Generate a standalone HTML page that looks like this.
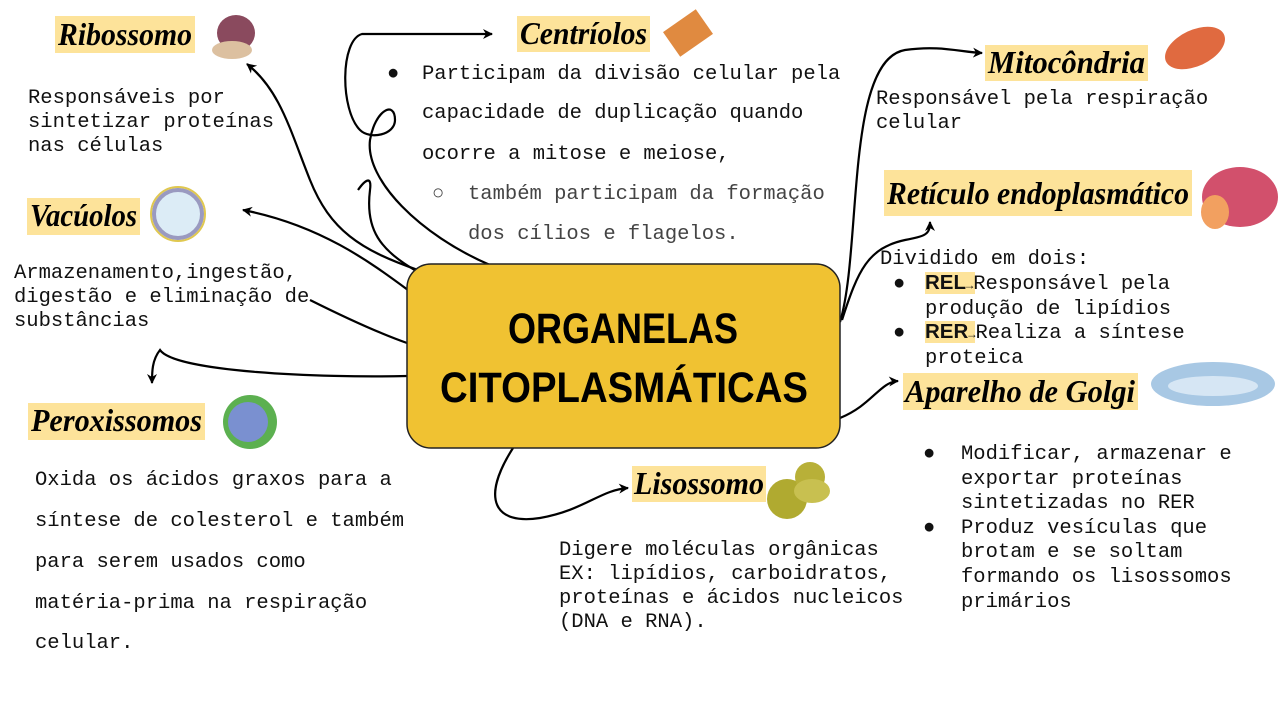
<!DOCTYPE html>
<html><head><meta charset="utf-8"><style>
html,body{margin:0;padding:0;background:#fff;width:1280px;height:704px;overflow:hidden}
svg{display:block}
.m{font-family:"Liberation Mono",monospace;font-size:20.5px;fill:#111}
.t{font-family:"Liberation Serif",serif;font-style:italic;font-weight:bold;font-size:32px;fill:#000}
.hl{fill:#fde39a}
.c{fill:none;stroke:#000;stroke-width:2.2}
</style></head><body>
<svg width="1280" height="704" viewBox="0 0 1280 704" xmlns="http://www.w3.org/2000/svg">
<defs><marker id="a" markerWidth="12" markerHeight="12" refX="9" refY="5" orient="auto" markerUnits="userSpaceOnUse"><path d="M0,0 L10,5 L0,10 L3,5 Z" fill="#000"/></marker></defs>

<path class="c" marker-end="url(#a)" d="M418,270 C360,250 330,230 310,180 C290,130 280,90 247,64"/>
<path class="c" marker-end="url(#a)" d="M490,265 C420,235 365,180 370,140 C375,110 395,100 395,120 C395,135 370,140 360,130 C340,110 340,40 362,34 L492,34"/>
<path class="c" d="M418,272 C380,250 365,230 370,190 C372,175 365,180 358,190"/>
<path class="c" marker-end="url(#a)" d="M408,290 C370,262 320,225 243,210"/>
<path class="c" d="M407,343 C370,330 330,310 310,300"/>
<path class="c" marker-end="url(#a)" d="M407,376 C320,378 175,372 160,350 C152,360 152,372 152,383"/>
<path class="c" marker-end="url(#a)" d="M513,448 C480,500 495,525 540,518 C585,510 600,490 628,488"/>
<path class="c" marker-end="url(#a)" d="M840,322 C862,250 845,60 905,50 C940,45 960,52 982,53"/>
<path class="c" marker-end="url(#a)" d="M842,320 C858,270 868,248 905,240 C925,236 930,235 930,222"/>
<path class="c" marker-end="url(#a)" d="M840,418 C872,405 880,382 898,381"/>

<rect x="407" y="264" width="433" height="184" rx="24" fill="#f0c232" stroke="#222" stroke-width="1.5"/>
<text x="623" y="343" text-anchor="middle" font-family="Liberation Sans,sans-serif" font-weight="bold" font-size="43" textLength="230" lengthAdjust="spacingAndGlyphs">ORGANELAS</text>
<text x="624" y="402" text-anchor="middle" font-family="Liberation Sans,sans-serif" font-weight="bold" font-size="43" textLength="368" lengthAdjust="spacingAndGlyphs">CITOPLASMÁTICAS</text>

<rect class="hl" x="55" y="16" width="140" height="37"/><text class="t" x="58" y="45" textLength="134" lengthAdjust="spacingAndGlyphs">Ribossomo</text>
<rect class="hl" x="517" y="16" width="133" height="36"/><text class="t" x="520" y="44" textLength="127" lengthAdjust="spacingAndGlyphs">Centríolos</text>
<rect class="hl" x="985" y="45" width="163" height="36"/><text class="t" x="988" y="73" textLength="157" lengthAdjust="spacingAndGlyphs">Mitocôndria</text>
<rect class="hl" x="884" y="170" width="308" height="46"/><text class="t" x="887" y="204" textLength="302" lengthAdjust="spacingAndGlyphs">Retículo endoplasmático</text>
<rect class="hl" x="27" y="198" width="113" height="37"/><text class="t" x="30" y="226" textLength="107" lengthAdjust="spacingAndGlyphs">Vacúolos</text>
<rect class="hl" x="28" y="403" width="177" height="37"/><text class="t" x="31" y="431" textLength="171" lengthAdjust="spacingAndGlyphs">Peroxissomos</text>
<rect class="hl" x="632" y="466" width="134" height="36"/><text class="t" x="634" y="494" textLength="130" lengthAdjust="spacingAndGlyphs">Lisossomo</text>
<rect class="hl" x="903" y="373" width="235" height="37"/><text class="t" x="905" y="402" textLength="230" lengthAdjust="spacingAndGlyphs">Aparelho de Golgi</text>

<ellipse cx="236" cy="33" rx="19" ry="18" fill="#8a4a5e"/><ellipse cx="232" cy="50" rx="20" ry="9" fill="#dcc0a0"/>
<rect x="668" y="18" width="40" height="30" fill="#e08a40" transform="rotate(-35 688 33)"/>
<ellipse cx="1195" cy="48" rx="32" ry="18" fill="#e06a40" transform="rotate(-25 1195 48)"/>
<ellipse cx="1240" cy="197" rx="38" ry="30" fill="#d2506c"/><ellipse cx="1215" cy="212" rx="14" ry="17" fill="#f2a060"/>
<circle cx="178" cy="214" r="24" fill="#dcecf6" stroke="#9a9ac0" stroke-width="4"/><circle cx="178" cy="214" r="27" fill="none" stroke="#e0c850" stroke-width="2"/>
<circle cx="250" cy="422" r="27" fill="#5cb050"/><circle cx="248" cy="422" r="20" fill="#7a90d0"/>
<circle cx="787" cy="499" r="20" fill="#b0aa30"/><circle cx="810" cy="477" r="15" fill="#b8b038"/><ellipse cx="812" cy="491" rx="18" ry="12" fill="#c8c050"/>
<ellipse cx="1213" cy="384" rx="62" ry="22" fill="#a8c8e4"/><ellipse cx="1213" cy="386" rx="45" ry="10" fill="#d6e6f4"/>

<g class="m">
<text x="28" y="103">Responsáveis por</text>
<text x="28" y="127">sintetizar proteínas</text>
<text x="28" y="151">nas células</text>

<text x="14" y="278">Armazenamento,ingestão,</text>
<text x="14" y="302">digestão e eliminação de</text>
<text x="14" y="326">substâncias</text>

<text x="35" y="485">Oxida os ácidos graxos para a</text>
<text x="35" y="526">síntese de colesterol e também</text>
<text x="35" y="567">para serem usados como</text>
<text x="35" y="608">matéria-prima na respiração</text>
<text x="35" y="648">celular.</text>

<text x="387" y="79">●</text>
<text x="422" y="79">Participam da divisão celular pela</text>
<text x="422" y="118">capacidade de duplicação quando</text>
<text x="422" y="159">ocorre a mitose e meiose,</text>
<text x="432" y="199" fill="#444">○</text>
<text x="468" y="199" fill="#444">também participam da formação</text>
<text x="468" y="239" fill="#444">dos cílios e flagelos.</text>

<text x="876" y="104">Responsável pela respiração</text>
<text x="876" y="128">celular</text>

<text x="880" y="264">Dividido em dois:</text>
<text x="893" y="289">●</text>
<rect class="hl" x="925" y="272" width="50" height="22"/>
<text x="925" y="289"><tspan font-weight="bold" font-family="Liberation Sans,sans-serif">REL</tspan><tspan font-size="12">→</tspan>Responsável pela</text>
<text x="925" y="314">produção de lipídios</text>
<text x="893" y="338">●</text>
<rect class="hl" x="925" y="321" width="50" height="22"/>
<text x="925" y="338"><tspan font-weight="bold" font-family="Liberation Sans,sans-serif">RER</tspan><tspan font-size="12">→</tspan>Realiza a síntese</text>
<text x="925" y="363">proteica</text>

<text x="923" y="459">●</text>
<text x="961" y="459">Modificar, armazenar e</text>
<text x="961" y="484">exportar proteínas</text>
<text x="961" y="508">sintetizadas no RER</text>
<text x="923" y="533">●</text>
<text x="961" y="533">Produz vesículas que</text>
<text x="961" y="557">brotam e se soltam</text>
<text x="961" y="582">formando os lisossomos</text>
<text x="961" y="607">primários</text>

<text x="559" y="555">Digere moléculas orgânicas</text>
<text x="559" y="579">EX: lipídios, carboidratos,</text>
<text x="559" y="603">proteínas e ácidos nucleicos</text>
<text x="559" y="627">(DNA e RNA).</text>
</g>
</svg>
</body></html>
